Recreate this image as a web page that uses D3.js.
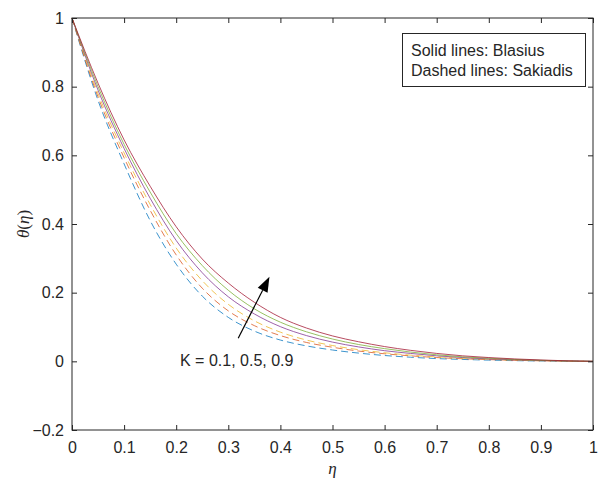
<!DOCTYPE html>
<html><head><meta charset="utf-8">
<script src="https://cdn.jsdelivr.net/npm/d3@7"></script>
<style>body{margin:0;background:#fff}svg{display:block}text{font-family:"Liberation Sans",Arial,sans-serif;fill:#262626}</style>
</head><body><div id="chart"></div>
<script>
const eta = [0,0.05,0.1,0.15,0.2,0.25,0.3,0.35,0.4,0.45,0.5,0.55,0.6,0.65,0.7,0.75,0.8,0.85,0.9,0.95,1];
// Sakiadis (dashed), K = 0.1, 0.5, 0.9
const sakK01 = [1,0.76,0.575,0.41,0.283,0.19,0.128,0.088,0.062,0.045,0.033,0.024,0.017,0.012,0.008,0.0055,0.0035,0.002,0.001,0.0004,0];
const sakK05 = [1,0.77,0.593,0.44,0.31,0.213,0.147,0.104,0.075,0.055,0.041,0.030,0.022,0.016,0.011,0.0075,0.005,0.003,0.0015,0.0005,0];
const sakK09 = [1,0.78,0.607,0.457,0.33,0.235,0.166,0.118,0.085,0.062,0.046,0.034,0.025,0.018,0.013,0.009,0.006,0.0035,0.002,0.0008,0];
// Blasius (solid), K = 0.1, 0.5, 0.9
const blaK01 = [1,0.79,0.62,0.475,0.352,0.258,0.188,0.138,0.101,0.075,0.056,0.042,0.031,0.023,0.016,0.011,0.007,0.0045,0.0025,0.001,0];
const blaK05 = [1,0.80,0.632,0.493,0.372,0.279,0.207,0.153,0.114,0.086,0.065,0.049,0.037,0.027,0.019,0.013,0.009,0.0055,0.003,0.001,0];
const blaK09 = [1,0.81,0.645,0.51,0.392,0.298,0.228,0.172,0.128,0.097,0.074,0.057,0.043,0.032,0.023,0.016,0.011,0.007,0.004,0.0015,0];
const xTicks = [0,0.1,0.2,0.3,0.4,0.5,0.6,0.7,0.8,0.9,1];
const yTicks = [-0.2,0,0.2,0.4,0.6,0.8,1];
const legendLines = ["Solid lines: Blasius","Dashed lines: Sakiadis"];
const annotation = "K = 0.1, 0.5, 0.9";
const arrowFrom = [0.319,0.067], arrowTo = [0.379,0.246];

const series = [
  {v:sakK01,c:"#0072BD",d:true},
  {v:sakK05,c:"#D95319",d:true},
  {v:sakK09,c:"#EDB120",d:true},
  {v:blaK01,c:"#7E2F8E",d:false},
  {v:blaK05,c:"#77AC30",d:false},
  {v:blaK09,c:"#A2142F",d:false}
];

const W=600,H=483, L=72,R=593,T=18,B=430;
const svg=d3.select("#chart").append("svg").attr("width",W).attr("height",H);
const x=d3.scaleLinear().domain([0,1]).range([L,R]);
const y=d3.scaleLinear().domain([-0.2,1]).range([B,T]);
const ax="#262626";
const FS=16;

const g=svg.append("g");
const line=d3.line().x((d,i)=>x(eta[i])).y(d=>y(d)).curve(d3.curveMonotoneX);
series.forEach(s=>{
  g.append("path").attr("d",line(s.v)).attr("fill","none").attr("stroke",s.c)
   .attr("stroke-width",0.85).attr("stroke-dasharray",s.d?"7,4":null).attr("opacity",0.9);
});

// axes with inward ticks on all sides
const tl=5;
svg.append("g").attr("transform",`translate(0,${B})`).call(d3.axisBottom(x).tickValues(xTicks).tickSize(-tl).tickPadding(12).tickFormat(d3.format("~g")))
  .call(a=>{a.select(".domain").remove();a.selectAll("line").attr("stroke",ax);a.selectAll("text").attr("font-size",FS).attr("fill",ax).style("font-family","Liberation Sans");});
svg.append("g").attr("transform",`translate(0,${T})`).call(d3.axisTop(x).tickValues(xTicks).tickSize(-tl).tickFormat(""))
  .call(a=>{a.select(".domain").remove();a.selectAll("line").attr("stroke",ax);});
svg.append("g").attr("transform",`translate(${L},0)`).call(d3.axisLeft(y).tickValues(yTicks).tickSize(-tl).tickPadding(8).tickFormat(d3.format("~g")))
  .call(a=>{a.select(".domain").remove();a.selectAll("line").attr("stroke",ax);a.selectAll("text").attr("font-size",FS).attr("fill",ax).style("font-family","Liberation Sans");});
svg.append("g").attr("transform",`translate(${R},0)`).call(d3.axisRight(y).tickValues(yTicks).tickSize(-tl).tickFormat(""))
  .call(a=>{a.select(".domain").remove();a.selectAll("line").attr("stroke",ax);});
svg.append("rect").attr("x",L).attr("y",T).attr("width",R-L).attr("height",B-T).attr("fill","none").attr("stroke",ax).attr("stroke-width",1);

// axis labels
svg.append("text").attr("x",(L+R)/2).attr("y",474).attr("text-anchor","middle")
  .style("font-family","'Liberation Serif','DejaVu Serif',serif").style("font-style","italic").attr("font-size",17).text("η");
const yl=svg.append("text").attr("transform",`translate(29,${(T+B)/2}) rotate(-90)`).attr("text-anchor","middle")
  .style("font-family","'Liberation Serif','DejaVu Serif',serif").attr("font-size",17);
yl.append("tspan").style("font-style","italic").text("θ");
yl.append("tspan").text("(");
yl.append("tspan").style("font-style","italic").text("η");
yl.append("tspan").text(")");

// legend box
svg.append("rect").attr("x",402.5).attr("y",33.5).attr("width",183).attr("height",53).attr("fill","#fff").attr("stroke",ax).attr("stroke-width",1);
legendLines.forEach((t,i)=>{
  svg.append("text").attr("x",411).attr("y",55.5+i*20.2).attr("font-size",FS).attr("fill","#000").text(t);
});

// arrow
const x1=x(arrowFrom[0]),y1=y(arrowFrom[1]),x2=x(arrowTo[0]),y2=y(arrowTo[1]);
const ang=Math.atan2(y2-y1,x2-x1), hl=15, hw=5.5;
const bx=x2-hl*Math.cos(ang), by=y2-hl*Math.sin(ang);
svg.append("line").attr("x1",x1).attr("y1",y1).attr("x2",bx).attr("y2",by).attr("stroke","#000").attr("stroke-width",1.2);
svg.append("path").attr("d",`M${x2},${y2}L${bx+hw*Math.sin(ang)},${by-hw*Math.cos(ang)}L${bx-hw*Math.sin(ang)},${by+hw*Math.cos(ang)}Z`).attr("fill","#000");
svg.append("text").attr("x",180).attr("y",366).attr("font-size",FS).attr("fill","#000").text(annotation);
</script></body></html>
